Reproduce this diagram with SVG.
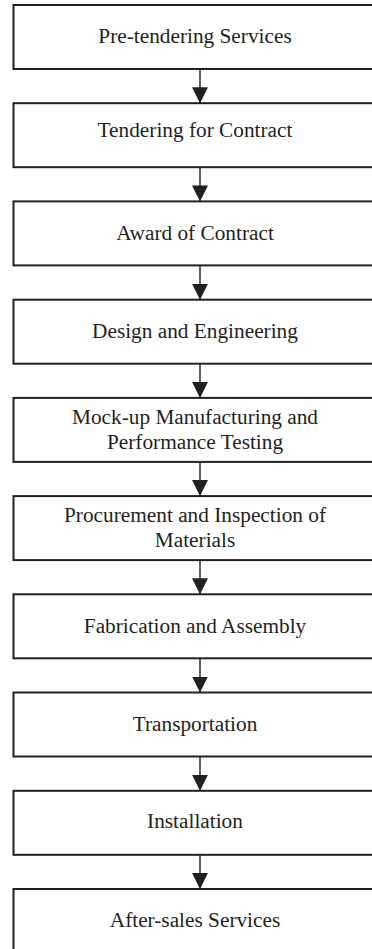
<svg xmlns="http://www.w3.org/2000/svg" width="372" height="949" viewBox="0 0 372 949">
  <style>
    .box { fill: #ffffff; stroke: #231f20; stroke-width: 2; }
    .label { font-size: 21.3px; fill: #231f20; text-anchor: middle; }
    .flow { stroke: #231f20; stroke-width: 1.4; fill: none; }
  </style>
  <defs>
    <marker id="head" markerUnits="userSpaceOnUse" markerWidth="16" markerHeight="16" refX="16" refY="8" orient="auto">
      <path d="M0,0 L16,8 L0,16 Z" fill="#231f20"/>
    </marker>
  </defs>
  <rect width="372" height="949" fill="#ffffff"/>

  <!-- process steps -->
  <g font-family="'Liberation Serif', 'Times New Roman', Times, 'DejaVu Serif', serif">
  <g id="step-pretendering">
    <rect class="box" x="13.5" y="5" width="390" height="64"/>
    <text class="label" x="195" y="43">Pre-tendering Services</text>
  </g>
  <g id="step-tendering">
    <rect class="box" x="13.5" y="103.2" width="390" height="64"/>
    <text class="label" x="195" y="137">Tendering for Contract</text>
  </g>
  <g id="step-award">
    <rect class="box" x="13.5" y="201.4" width="390" height="64"/>
    <text class="label" x="195" y="239.5">Award of Contract</text>
  </g>
  <g id="step-design">
    <rect class="box" x="13.5" y="299.7" width="390" height="64"/>
    <text class="label" x="195" y="338">Design and Engineering</text>
  </g>
  <g id="step-mockup">
    <rect class="box" x="13.5" y="397.9" width="390" height="64"/>
    <text class="label" x="195" y="424">Mock-up Manufacturing and</text>
    <text class="label" x="195" y="449">Performance Testing</text>
  </g>
  <g id="step-procurement">
    <rect class="box" x="13.5" y="496.1" width="390" height="64"/>
    <text class="label" x="195" y="521.5">Procurement and Inspection of</text>
    <text class="label" x="195" y="547">Materials</text>
  </g>
  <g id="step-fabrication">
    <rect class="box" x="13.5" y="594.3" width="390" height="64"/>
    <text class="label" x="195" y="632.5">Fabrication and Assembly</text>
  </g>
  <g id="step-transportation">
    <rect class="box" x="13.5" y="692.5" width="390" height="64"/>
    <text class="label" x="195" y="730.5">Transportation</text>
  </g>
  <g id="step-installation">
    <rect class="box" x="13.5" y="790.8" width="390" height="64"/>
    <text class="label" x="195" y="828">Installation</text>
  </g>
  <g id="step-aftersales">
    <rect class="box" x="13.5" y="889" width="390" height="80"/>
    <text class="label" x="195" y="927">After-sales Services</text>
  </g>
  </g>

  <!-- connectors -->
  <g id="connectors">
    <line class="flow" x1="200" y1="69" x2="200" y2="103.2" marker-end="url(#head)"/>
    <line class="flow" x1="200" y1="167.2" x2="200" y2="201.4" marker-end="url(#head)"/>
    <line class="flow" x1="200" y1="265.4" x2="200" y2="299.7" marker-end="url(#head)"/>
    <line class="flow" x1="200" y1="363.7" x2="200" y2="397.9" marker-end="url(#head)"/>
    <line class="flow" x1="200" y1="461.9" x2="200" y2="496.1" marker-end="url(#head)"/>
    <line class="flow" x1="200" y1="560.1" x2="200" y2="594.3" marker-end="url(#head)"/>
    <line class="flow" x1="200" y1="658.3" x2="200" y2="692.5" marker-end="url(#head)"/>
    <line class="flow" x1="200" y1="756.5" x2="200" y2="790.8" marker-end="url(#head)"/>
    <line class="flow" x1="200" y1="854.8" x2="200" y2="889" marker-end="url(#head)"/>
  </g>
</svg>
